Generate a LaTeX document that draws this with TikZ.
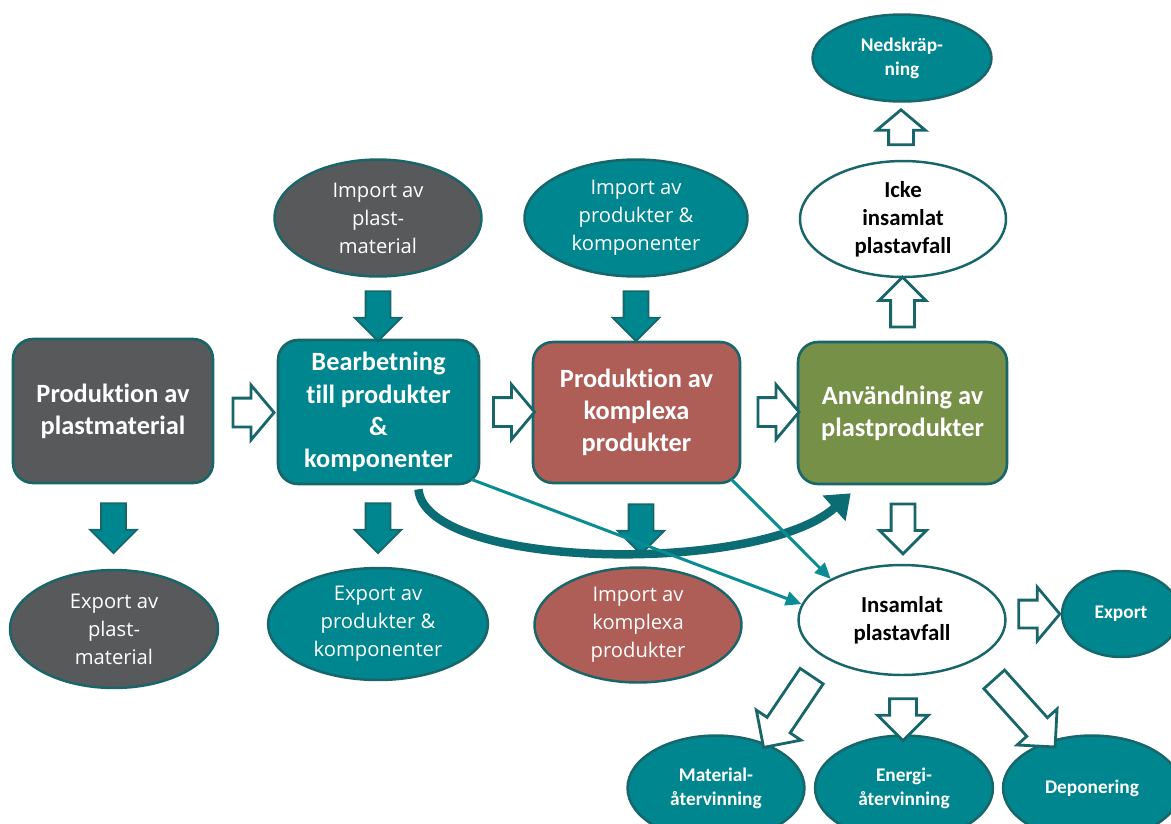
\documentclass[tikz,border=0pt]{standalone}
\usepackage{fontspec}
\setmainfont{Carlito}[Ligatures=NoCommon]
\newfontfamily\segoe{Open Sans}
\usetikzlibrary{arrows.meta,shapes.geometric,shapes.arrows}
\definecolor{petrol}{RGB}{0,134,143}
\definecolor{kant}{RGB}{24,101,106}
\definecolor{grafit}{RGB}{88,89,91}
\definecolor{tegel}{RGB}{174,94,86}
\definecolor{oliv}{RGB}{118,144,71}
\definecolor{strom}{RGB}{10,140,148}
\definecolor{bage}{RGB}{12,108,116}

\begin{document}
\begin{tikzpicture}[x=0.02cm,y=-0.02cm,
  step box/.style={rectangle,rounded corners=0.4cm,draw=kant,line width=1.5pt,
    text=white,align=center,font=\bfseries\fontsize{15}{18.3}\selectfont},
  flow node/.style={ellipse,draw=kant,line width=1.4pt,fill=petrol,text=white,
    align=center,inner sep=0pt,font=\segoe\fontsize{11.5}{16}\selectfont},
  end node/.style={flow node,font=\bfseries\fontsize{11}{13.5}\selectfont},
  waste node/.style={flow node,fill=white,text=black,
    font=\bfseries\fontsize{13}{16}\selectfont},
  full arrow/.style={single arrow,draw=kant,line width=1pt,fill=petrol,
    inner xsep=0pt,inner ysep=0.23cm,single arrow head extend=0.22cm,
    minimum height=1cm},
  open arrow/.style={single arrow,draw=kant,line width=1.6pt,fill=white,
    inner xsep=0pt,inner ysep=0.26cm,single arrow head extend=0.26cm,
    single arrow tip angle=100},
  thin flow/.style={draw=strom,line width=1.7pt,-{Triangle[length=9pt,width=8pt]}}]
  \useasboundingbox (0,0) rectangle (1171,823);

  % stages
  \node[step box,fill=grafit,minimum width=4cm,minimum height=2.88cm]
    (prod) at (113,411) {Produktion av\\plastmaterial};
  \node[step box,fill=petrol,minimum width=4.02cm,minimum height=2.88cm]
    (bearb) at (378.5,412) {Bearbetning\\till produkter\\\&\\komponenter};
  \node[step box,fill=tegel,minimum width=4.14cm,minimum height=2.82cm]
    (kompl) at (636.5,412.5) {Produktion av\\komplexa\\produkter};
  \node[step box,fill=oliv,minimum width=4.18cm,minimum height=2.84cm]
    (anv) at (902.5,413) {Användning av\\plastprodukter};

  % import and export
  \node[flow node,fill=grafit,minimum width=4.14cm,minimum height=2.34cm]
    (impmat) at (378,218) {Import av\\plast-\\material};
  \node[flow node,minimum width=4.46cm,minimum height=2.34cm]
    (impprod) at (636,218) {Import av\\produkter \&\\komponenter};
  \node[flow node,fill=grafit,minimum width=4.16cm,minimum height=2.36cm]
    (expmat) at (114,629) {Export av\\plast-\\material};
  \node[flow node,minimum width=4.4cm,minimum height=2.24cm]
    (expprod) at (378,624) {Export av\\produkter \&\\komponenter};
  \node[flow node,fill=tegel,minimum width=4.14cm,minimum height=2.3cm]
    (impkompl) at (638,625) {Import av\\komplexa\\produkter};

  % waste
  \node[end node,minimum width=3.58cm,minimum height=1.74cm]
    (ned) at (902,58) {Nedskräp-\\ning};
  \node[waste node,minimum width=4.12cm,minimum height=2.32cm]
    (icke) at (903,219) {Icke\\insamlat\\plastavfall};
  \node[waste node,minimum width=4.14cm,minimum height=2.2cm]
    (insam) at (902,620) {Insamlat\\plastavfall};
  \node[end node,minimum width=2.36cm,minimum height=1.72cm]
    (exp) at (1121,614) {Export};
  \node[end node,minimum width=3.54cm,minimum height=2.1cm]
    (matat) at (716,788) {Material-\\återvinning};
  \node[end node,minimum width=3.56cm,minimum height=2.1cm]
    (enat) at (904,788) {Energi-\\återvinning};
  \node[end node,minimum width=3.56cm,minimum height=2.1cm]
    (depon) at (1092,788) {Deponering};

  % block arrows
  \node[full arrow,rotate=-90] (p1) at (378,310) {};
  \node[full arrow,rotate=-90] (p2) at (636,310) {};
  \node[full arrow,rotate=-90] (p3) at (113.5,522) {};
  \node[full arrow,rotate=-90] (p4) at (378,522) {};
  \node[full arrow,rotate=-90] (p5) at (641,523) {};
  \node[open arrow,minimum height=0.82cm] (h1) at (247.5,412.5) {};
  \node[open arrow,minimum height=0.82cm] (h2) at (508,412) {};
  \node[open arrow,minimum height=0.82cm] (h3) at (772.5,412) {};
  \node[open arrow,rotate=90,minimum height=1cm,inner ysep=0.21cm,
    single arrow head extend=0.23cm,single arrow tip angle=90] (h4) at (902.5,308) {};
  \node[open arrow,rotate=90,minimum height=0.7cm,inner ysep=0.22cm,
    single arrow head extend=0.24cm] (h5) at (901,132.5) {};
  \node[open arrow,rotate=-90,minimum height=1cm,inner ysep=0.21cm,
    single arrow head extend=0.23cm,single arrow tip angle=90] (h6) at (903,523) {};
  \node[open arrow,minimum height=0.82cm,inner ysep=0.25cm] (h7) at (1033.5,614) {};
  \node[open arrow,rotate=-124,minimum height=1.72cm,inner ysep=0.25cm,
    single arrow tip angle=90] (h8) at (791.5,706) {};
  \node[open arrow,rotate=-90,minimum height=0.84cm,inner ysep=0.24cm,
    single arrow head extend=0.24cm,single arrow tip angle=90] (h9) at (903,713) {};
  \node[open arrow,rotate=-48,minimum height=1.82cm,inner ysep=0.25cm,
    single arrow tip angle=90] (h10) at (1020,708) {};

  % bypass to use
  \draw[draw=bage,line width=0.17cm,-{Triangle[length=0.45cm,width=0.66cm]}]
    ([xshift=0.8cm,yshift=-0.08cm]bearb.south) .. controls (425,570) and (760,575)
    .. ([xshift=1.08cm,yshift=-0.16cm]anv.south west);

  \path ([xshift=-0.18cm,yshift=0.12cm]bearb.south east) edge[thin flow] (insam.171)
        ([xshift=-0.2cm,yshift=0.1cm]kompl.south east) edge[thin flow] (insam.150);
\end{tikzpicture}
\end{document}
